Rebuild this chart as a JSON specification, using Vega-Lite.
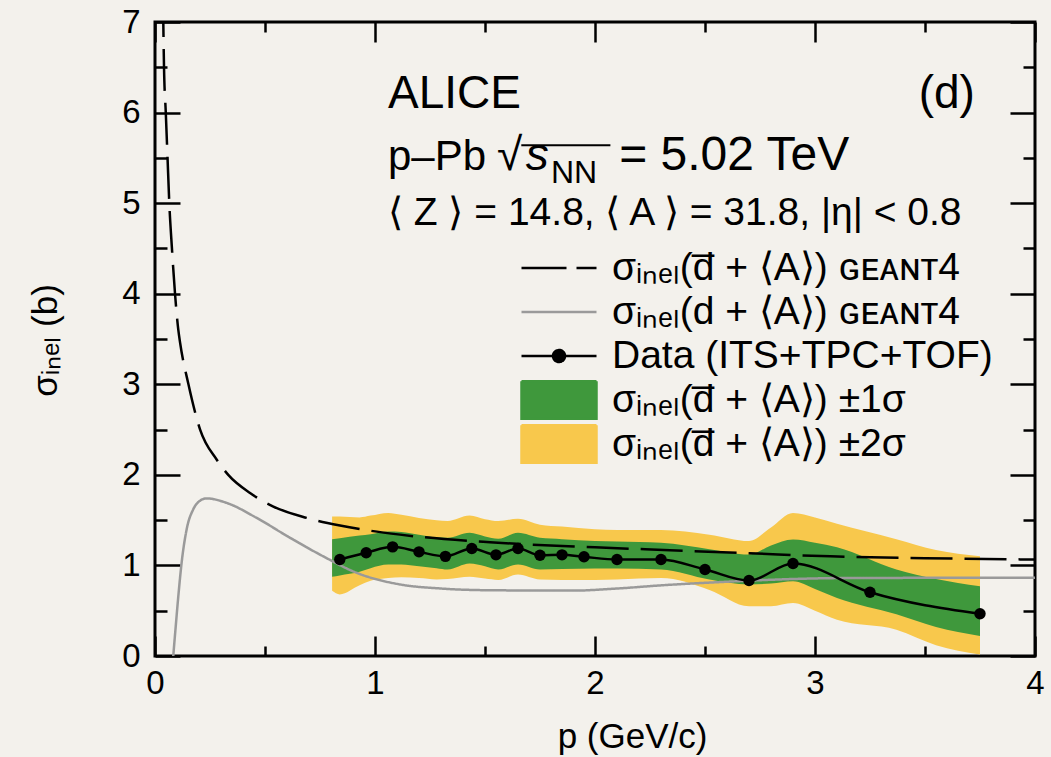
{
  "$schema": "https://vega.github.io/schema/vega-lite/v6.json",
  "width": 880,
  "height": 634,
  "autosize": {"type": "none"},
  "padding": {"left": 155, "top": 22, "right": 16, "bottom": 101},
  "background": "#f3f1ec",
  "config": {
    "view": {"stroke": "black", "strokeWidth": 3},
    "axis": {
      "domain": false, "grid": false,
      "labelFont": "Liberation Sans", "labelFontSize": 33, "labelColor": "black",
      "tickColor": "black", "tickWidth": 2.5,
      "titleFont": "Liberation Sans", "titleFontSize": 35, "titleFontWeight": "normal", "titleColor": "black",
      "labelFlush": false, "labelOverlap": false
    },
    "text": {"font": "Liberation Sans", "color": "black"}
  },
  "datasets": {
    "bands": [
      {"band": "band2", "x": 0.805, "lo": 0.72, "hi": 1.54},
      {"band": "band2", "x": 0.84, "lo": 0.68, "hi": 1.54},
      {"band": "band2", "x": 0.93, "lo": 0.78, "hi": 1.53},
      {"band": "band2", "x": 0.98, "lo": 0.83, "hi": 1.55},
      {"band": "band2", "x": 1.06, "lo": 0.86, "hi": 1.58},
      {"band": "band2", "x": 1.12, "lo": 0.87, "hi": 1.56},
      {"band": "band2", "x": 1.2, "lo": 0.86, "hi": 1.525},
      {"band": "band2", "x": 1.28, "lo": 0.845, "hi": 1.5},
      {"band": "band2", "x": 1.33, "lo": 0.85, "hi": 1.49},
      {"band": "band2", "x": 1.43, "lo": 0.875, "hi": 1.55},
      {"band": "band2", "x": 1.5, "lo": 0.855, "hi": 1.51},
      {"band": "band2", "x": 1.56, "lo": 0.84, "hi": 1.49},
      {"band": "band2", "x": 1.65, "lo": 0.9, "hi": 1.515},
      {"band": "band2", "x": 1.75, "lo": 0.845, "hi": 1.45},
      {"band": "band2", "x": 1.85, "lo": 0.84, "hi": 1.43},
      {"band": "band2", "x": 2.0, "lo": 0.84, "hi": 1.4},
      {"band": "band2", "x": 2.1, "lo": 0.845, "hi": 1.39},
      {"band": "band2", "x": 2.3, "lo": 0.86, "hi": 1.39},
      {"band": "band2", "x": 2.52, "lo": 0.73, "hi": 1.34},
      {"band": "band2", "x": 2.7, "lo": 0.55, "hi": 1.27},
      {"band": "band2", "x": 2.8, "lo": 0.55, "hi": 1.42},
      {"band": "band2", "x": 2.9, "lo": 0.585, "hi": 1.58},
      {"band": "band2", "x": 3.0, "lo": 0.5, "hi": 1.53},
      {"band": "band2", "x": 3.1, "lo": 0.4, "hi": 1.46},
      {"band": "band2", "x": 3.37, "lo": 0.29, "hi": 1.29},
      {"band": "band2", "x": 3.55, "lo": 0.12, "hi": 1.17},
      {"band": "band2", "x": 3.75, "lo": 0.017, "hi": 1.1},
      {"band": "band1", "x": 0.805, "lo": 0.875, "hi": 1.29},
      {"band": "band1", "x": 0.84, "lo": 0.89, "hi": 1.3},
      {"band": "band1", "x": 0.93, "lo": 0.93, "hi": 1.33},
      {"band": "band1", "x": 0.98, "lo": 0.97, "hi": 1.345},
      {"band": "band1", "x": 1.06, "lo": 1.01, "hi": 1.375},
      {"band": "band1", "x": 1.12, "lo": 1.01, "hi": 1.37},
      {"band": "band1", "x": 1.2, "lo": 0.99, "hi": 1.34},
      {"band": "band1", "x": 1.28, "lo": 0.97, "hi": 1.31},
      {"band": "band1", "x": 1.33, "lo": 0.955, "hi": 1.305},
      {"band": "band1", "x": 1.43, "lo": 1.02, "hi": 1.36},
      {"band": "band1", "x": 1.5, "lo": 0.99, "hi": 1.32},
      {"band": "band1", "x": 1.56, "lo": 0.955, "hi": 1.295},
      {"band": "band1", "x": 1.65, "lo": 1.01, "hi": 1.36},
      {"band": "band1", "x": 1.75, "lo": 0.955, "hi": 1.305},
      {"band": "band1", "x": 1.85, "lo": 0.96, "hi": 1.29},
      {"band": "band1", "x": 2.0, "lo": 0.965, "hi": 1.27},
      {"band": "band1", "x": 2.1, "lo": 0.965, "hi": 1.265},
      {"band": "band1", "x": 2.3, "lo": 0.955, "hi": 1.25},
      {"band": "band1", "x": 2.52, "lo": 0.845, "hi": 1.18},
      {"band": "band1", "x": 2.7, "lo": 0.79, "hi": 1.12},
      {"band": "band1", "x": 2.8, "lo": 0.8, "hi": 1.22},
      {"band": "band1", "x": 2.9, "lo": 0.825, "hi": 1.285},
      {"band": "band1", "x": 3.0, "lo": 0.74, "hi": 1.25},
      {"band": "band1", "x": 3.1, "lo": 0.64, "hi": 1.2},
      {"band": "band1", "x": 3.37, "lo": 0.46, "hi": 0.955},
      {"band": "band1", "x": 3.55, "lo": 0.32, "hi": 0.85},
      {"band": "band1", "x": 3.75, "lo": 0.22, "hi": 0.77}
    ],
    "geant": [
      {"series": "antid_g4", "x": 0.036, "y": 7.3},
      {"series": "antid_g4", "x": 0.041, "y": 6.5},
      {"series": "antid_g4", "x": 0.049, "y": 6.0},
      {"series": "antid_g4", "x": 0.057, "y": 5.5},
      {"series": "antid_g4", "x": 0.065, "y": 5.0},
      {"series": "antid_g4", "x": 0.077, "y": 4.5},
      {"series": "antid_g4", "x": 0.091, "y": 4.0},
      {"series": "antid_g4", "x": 0.106, "y": 3.6},
      {"series": "antid_g4", "x": 0.114, "y": 3.46},
      {"series": "antid_g4", "x": 0.152, "y": 3.0},
      {"series": "antid_g4", "x": 0.205, "y": 2.5},
      {"series": "antid_g4", "x": 0.28, "y": 2.17},
      {"series": "antid_g4", "x": 0.333, "y": 2.0},
      {"series": "antid_g4", "x": 0.432, "y": 1.8},
      {"series": "antid_g4", "x": 0.538, "y": 1.65},
      {"series": "antid_g4", "x": 0.689, "y": 1.525},
      {"series": "antid_g4", "x": 0.841, "y": 1.44},
      {"series": "antid_g4", "x": 1.114, "y": 1.34},
      {"series": "antid_g4", "x": 1.523, "y": 1.256},
      {"series": "antid_g4", "x": 2.0, "y": 1.2},
      {"series": "antid_g4", "x": 2.341, "y": 1.168},
      {"series": "antid_g4", "x": 2.7, "y": 1.135},
      {"series": "antid_g4", "x": 3.07, "y": 1.1},
      {"series": "antid_g4", "x": 3.5, "y": 1.08},
      {"series": "antid_g4", "x": 4.0, "y": 1.065},
      {"series": "d_g4", "x": 0.083, "y": 0.0},
      {"series": "d_g4", "x": 0.095, "y": 0.35},
      {"series": "d_g4", "x": 0.106, "y": 0.66},
      {"series": "d_g4", "x": 0.121, "y": 1.03},
      {"series": "d_g4", "x": 0.144, "y": 1.4},
      {"series": "d_g4", "x": 0.174, "y": 1.62},
      {"series": "d_g4", "x": 0.205, "y": 1.715},
      {"series": "d_g4", "x": 0.235, "y": 1.74},
      {"series": "d_g4", "x": 0.326, "y": 1.69},
      {"series": "d_g4", "x": 0.462, "y": 1.525},
      {"series": "d_g4", "x": 0.614, "y": 1.305},
      {"series": "d_g4", "x": 0.765, "y": 1.1},
      {"series": "d_g4", "x": 0.917, "y": 0.918},
      {"series": "d_g4", "x": 1.114, "y": 0.79},
      {"series": "d_g4", "x": 1.3, "y": 0.745},
      {"series": "d_g4", "x": 1.523, "y": 0.726},
      {"series": "d_g4", "x": 1.9, "y": 0.722},
      {"series": "d_g4", "x": 2.1, "y": 0.745},
      {"series": "d_g4", "x": 2.3, "y": 0.78},
      {"series": "d_g4", "x": 2.6, "y": 0.82},
      {"series": "d_g4", "x": 2.9, "y": 0.85},
      {"series": "d_g4", "x": 3.1, "y": 0.86},
      {"series": "d_g4", "x": 4.0, "y": 0.865}
    ],
    "meas": [
      {"x": 0.84, "y": 1.065},
      {"x": 0.96, "y": 1.14},
      {"x": 1.08, "y": 1.205},
      {"x": 1.2, "y": 1.15},
      {"x": 1.32, "y": 1.1},
      {"x": 1.44, "y": 1.187},
      {"x": 1.55, "y": 1.117},
      {"x": 1.65, "y": 1.187},
      {"x": 1.75, "y": 1.113},
      {"x": 1.85, "y": 1.117},
      {"x": 1.95, "y": 1.095},
      {"x": 2.1, "y": 1.065},
      {"x": 2.3, "y": 1.065},
      {"x": 2.5, "y": 0.955},
      {"x": 2.7, "y": 0.833},
      {"x": 2.9, "y": 1.021},
      {"x": 3.25, "y": 0.704},
      {"x": 3.75, "y": 0.466}
    ]
  },
  "layer": [
    {
      "data": {"name": "bands"},
      "transform": [{"filter": "datum.band == 'band2'"}],
      "mark": {"type": "area", "interpolate": "monotone", "opacity": 1},
      "encoding": {
        "x": {"field": "x", "type": "quantitative", "scale": {"domain": [0, 4], "nice": false, "zero": false},
              "axis": {"orient": "bottom", "values": [0, 1, 2, 3, 4], "tickSize": -20, "labelPadding": 31, "title": "p (GeV/c)", "titleX": 477, "titleY": 63}},
        "y": {"field": "lo", "type": "quantitative", "scale": {"domain": [0, 7], "nice": false, "zero": false},
              "axis": {"orient": "left", "values": [0, 1, 2, 3, 4, 5, 6, 7], "tickSize": -25, "labelPadding": 40, "title": "σᵢₙₑₗ (b)", "titleX": -92, "titleY": 318}},
        "y2": {"field": "hi"},
        "color": {
          "field": "band", "type": "nominal",
          "scale": {"domain": ["antid_g4", "d_g4", "data", "band1", "band2"], "range": ["black", "#9a9a9a", "black", "#3f983c", "#f8c84c"]},
          "legend": {
            "orient": "none", "legendX": 365, "legendY": 224, "title": null,
            "symbolSize": 5625, "clipHeight": 44, "rowPadding": 0, "padding": 0,
            "labelFont": "Liberation Sans", "labelFontSize": 39, "labelColor": "black", "labelOffset": 14, "labelLimit": 800,
            "labelExpr": "datum.value == 'antid_g4' ? 'σᵢₙₑₗ(d̅ + ⟨A⟩) ɢᴇᴀɴᴛ4' : datum.value == 'd_g4' ? 'σᵢₙₑₗ(d + ⟨A⟩) ɢᴇᴀɴᴛ4' : datum.value == 'data' ? 'Data (ITS+TPC+TOF)' : datum.value == 'band1' ? 'σᵢₙₑₗ(d̅ + ⟨A⟩) ±1σ' : 'σᵢₙₑₗ(d̅ + ⟨A⟩) ±2σ'",
            "encoding": {
              "symbols": {
                "shape": {"condition": [
                  {"test": "datum.value == 'data'", "value": "M-1,0H1M0.16,0A0.16,0.16,0,1,1,-0.16,0A0.16,0.16,0,1,1,0.16,0Z"},
                  {"test": "datum.value == 'band1' || datum.value == 'band2'", "value": "M-1,-0.5H1V0.5H-1Z"}
                ], "value": "M-1,0H1"},
                "fill": {"condition": [
                  {"test": "datum.value == 'band1'", "value": "#3f983c"},
                  {"test": "datum.value == 'band2'", "value": "#f8c84c"},
                  {"test": "datum.value == 'data'", "value": "black"}
                ], "value": "transparent"},
                "stroke": {"condition": [
                  {"test": "datum.value == 'd_g4'", "value": "#9a9a9a"},
                  {"test": "datum.value == 'band1' || datum.value == 'band2'", "value": "transparent"}
                ], "value": "black"},
                "strokeDash": {"condition": {"test": "datum.value == 'antid_g4'", "value": [45, 10]}, "value": [1, 0]},
                "strokeWidth": {"value": 2.5},
                "opacity": {"value": 1},
                "fillOpacity": {"value": 1},
                "strokeOpacity": {"value": 1}
              }
            }
          }
        }
      }
    },
    {
      "data": {"name": "bands"},
      "transform": [{"filter": "datum.band == 'band1'"}],
      "mark": {"type": "area", "interpolate": "monotone", "opacity": 1},
      "encoding": {
        "x": {"field": "x", "type": "quantitative", "scale": {"domain": [0, 4], "nice": false, "zero": false},
              "axis": {"orient": "bottom", "values": [0.5, 1.5, 2.5, 3.5], "tickSize": -10, "labels": false, "title": null}},
        "y": {"field": "lo", "type": "quantitative", "scale": {"domain": [0, 7], "nice": false, "zero": false},
              "axis": {"orient": "left", "values": [0.5, 1.5, 2.5, 3.5, 4.5, 5.5, 6.5], "tickSize": -12, "labels": false, "title": null}},
        "y2": {"field": "hi"},
        "color": {"field": "band", "type": "nominal"}
      }
    },
    {
      "data": {"name": "geant"},
      "mark": {"type": "line", "interpolate": "monotone", "strokeWidth": 2.5, "clip": true},
      "encoding": {
        "x": {"field": "x", "type": "quantitative", "scale": {"domain": [0, 4], "nice": false, "zero": false},
              "axis": {"orient": "top", "values": [0, 1, 2, 3, 4], "tickSize": -20, "labels": false, "title": null}},
        "y": {"field": "y", "type": "quantitative", "scale": {"domain": [0, 7], "nice": false, "zero": false},
              "axis": {"orient": "right", "values": [0, 1, 2, 3, 4, 5, 6, 7], "tickSize": -25, "labels": false, "title": null}},
        "color": {"field": "series", "type": "nominal"},
        "strokeDash": {"field": "series", "type": "nominal", "scale": {"domain": ["antid_g4", "d_g4"], "range": [[42, 12], [1, 0]]}, "legend": null}
      }
    },
    {
      "data": {"name": "meas"},
      "mark": {"type": "line", "interpolate": "monotone", "strokeWidth": 2.5, "clip": true},
      "encoding": {
        "x": {"field": "x", "type": "quantitative", "scale": {"domain": [0, 4], "nice": false, "zero": false},
              "axis": {"orient": "top", "values": [0.5, 1.5, 2.5, 3.5], "tickSize": -10, "labels": false, "title": null}},
        "y": {"field": "y", "type": "quantitative", "scale": {"domain": [0, 7], "nice": false, "zero": false},
              "axis": {"orient": "right", "values": [0.5, 1.5, 2.5, 3.5, 4.5, 5.5, 6.5], "tickSize": -12, "labels": false, "title": null}},
        "color": {"datum": "data", "type": "nominal"}
      }
    },
    {
      "data": {"name": "meas"},
      "mark": {"type": "circle", "size": 130, "color": "black", "opacity": 1},
      "encoding": {
        "x": {"field": "x", "type": "quantitative", "axis": null},
        "y": {"field": "y", "type": "quantitative", "axis": null}
      }
    },
    {
      "data": {"values": [{}]},
      "mark": {"type": "text", "fontSize": 46, "align": "left", "baseline": "alphabetic", "text": "ALICE"},
      "encoding": {"x": {"datum": 1.059, "type": "quantitative", "axis": null}, "y": {"datum": 6.05, "type": "quantitative", "axis": null}}
    },
    {
      "data": {"values": [{}]},
      "mark": {"type": "text", "fontSize": 46, "align": "right", "baseline": "alphabetic", "text": "(d)"},
      "encoding": {"x": {"datum": 3.727, "type": "quantitative", "axis": null}, "y": {"datum": 6.05, "type": "quantitative", "axis": null}}
    },
    {
      "data": {"values": [{}]},
      "mark": {"type": "text", "fontSize": 42, "align": "left", "baseline": "alphabetic", "text": "p–Pb"},
      "encoding": {"x": {"datum": 1.059, "type": "quantitative", "axis": null}, "y": {"datum": 5.37, "type": "quantitative", "axis": null}}
    },
    {
      "data": {"values": [{}]},
      "mark": {"type": "text", "fontSize": 46, "align": "left", "baseline": "alphabetic", "text": "√"},
      "encoding": {"x": {"datum": 1.555, "type": "quantitative", "axis": null}, "y": {"datum": 5.37, "type": "quantitative", "axis": null}}
    },
    {
      "data": {"values": [{}]},
      "mark": {"type": "rule", "strokeWidth": 2, "color": "black"},
      "encoding": {"x": {"datum": 1.665, "type": "quantitative", "axis": null}, "x2": {"datum": 2.07}, "y": {"datum": 5.64, "type": "quantitative", "axis": null}}
    },
    {
      "data": {"values": [{}]},
      "mark": {"type": "text", "fontSize": 46, "fontStyle": "italic", "align": "left", "baseline": "alphabetic", "text": "s"},
      "encoding": {"x": {"datum": 1.685, "type": "quantitative", "axis": null}, "y": {"datum": 5.37, "type": "quantitative", "axis": null}}
    },
    {
      "data": {"values": [{}]},
      "mark": {"type": "text", "fontSize": 32, "align": "left", "baseline": "alphabetic", "text": "NN"},
      "encoding": {"x": {"datum": 1.8, "type": "quantitative", "axis": null}, "y": {"datum": 5.22, "type": "quantitative", "axis": null}}
    },
    {
      "data": {"values": [{}]},
      "mark": {"type": "text", "fontSize": 48, "align": "left", "baseline": "alphabetic", "text": "= 5.02 TeV"},
      "encoding": {"x": {"datum": 2.11, "type": "quantitative", "axis": null}, "y": {"datum": 5.37, "type": "quantitative", "axis": null}}
    },
    {
      "data": {"values": [{}]},
      "mark": {"type": "text", "fontSize": 39, "align": "left", "baseline": "alphabetic", "text": "⟨ Z ⟩ = 14.8, ⟨ A ⟩ = 31.8, |η| < 0.8"},
      "encoding": {"x": {"datum": 1.059, "type": "quantitative", "axis": null}, "y": {"datum": 4.763, "type": "quantitative", "axis": null}}
    }
  ],
  "resolve": {"axis": {"x": "independent", "y": "independent"}}
}
